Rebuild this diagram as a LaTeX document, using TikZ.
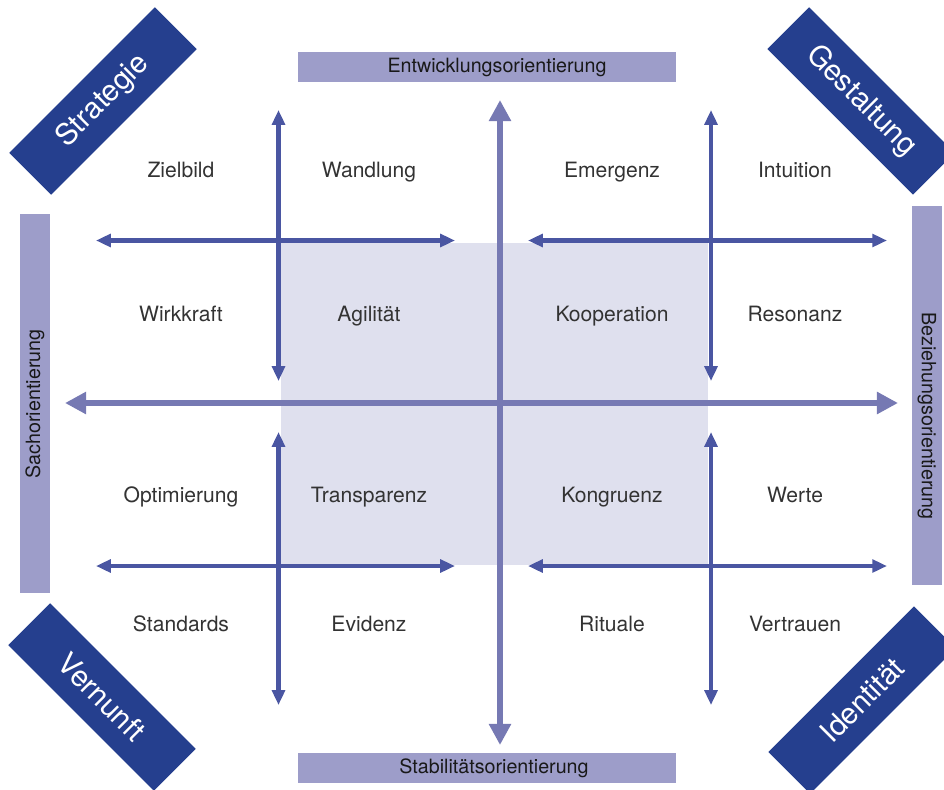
\documentclass[tikz,border=0pt]{standalone}
\usepackage{fontspec}
\setmainfont{TeX Gyre Heros}
\usetikzlibrary{arrows.meta}

\definecolor{bannerblue}{HTML}{253F8E}
\definecolor{barviolet}{HTML}{9D9DC9}
\definecolor{fieldgray}{HTML}{DFE0EE}
\definecolor{mainarrow}{HTML}{7679B3}
\definecolor{subarrow}{HTML}{4A56A2}
\definecolor{labelgray}{HTML}{333333}

\tikzset{
    banner/.style={fill=bannerblue, text=white, inner sep=0pt,
        minimum width=146.5pt, minimum height=42pt,
        font=\fontsize{21}{25}\selectfont},
    orientbar/.style={fill=barviolet, inner sep=0pt,
        minimum width=269pt, minimum height=21.5pt},
    bartext/.style={text=black!90, inner sep=0pt,
        font=\fontsize{14}{16}\selectfont},
    quality/.style={text=labelgray, inner sep=0pt, anchor=base,
        font=\fontsize{15}{18}\selectfont},
    axisarrow/.style={draw=mainarrow, line width=4.6pt,
        {Triangle[length=15pt,width=15pt]}-{Triangle[length=15pt,width=15pt]}},
    subarrowline/.style={draw=subarrow, line width=3pt,
        {Triangle[length=10.5pt,width=9pt]}-{Triangle[length=10.5pt,width=9pt]}}
}

\begin{document}
\begin{tikzpicture}[x=0.025cm, y=-0.025cm]
    \useasboundingbox (0,0) rectangle (944,789);

    % core field
    \fill[fieldgray] (281,243) rectangle (708,565);

    % orientation bars
    \node[orientbar] (entw) at (487,67) {};
    \node[orientbar] (stab) at (487,768) {};
    \node[orientbar, rotate=90] (sach) at (35,403.5) {};
    \node[orientbar, rotate=-90] (bez) at (927,395.5) {};
    \node[bartext] (entwtext) at (497,67) {Entwicklungsorientierung};
    \node[bartext] (stabtext) at (494,768) {Stabilitätsorientierung};
    \node[bartext, rotate=90] (sachtext) at (35,404) {Sachorientierung};
    \node[bartext, rotate=-90] (beztext) at (927,416) {Beziehungsorientierung};

    % corner banners
    \node[banner, rotate=45] (strat) at (103,101) {Strategie};
    \node[banner, rotate=-45] (gest) at (861,101) {Gestaltung};
    \node[banner, rotate=-45] (vern) at (102,697) {Vernunft};
    \node[banner, rotate=45] (ident) at (862,700) {Identität};

    % arrow ends
    \coordinate (vtop) at (500,100);
    \coordinate (vbot) at (500,745);
    \coordinate (hleft) at (65,403);
    \coordinate (hright) at (898,403);
    \coordinate (luA) at (278.5,110);
    \coordinate (luB) at (278.5,381);
    \coordinate (llA) at (278.5,432);
    \coordinate (llB) at (278.5,705);
    \coordinate (ruA) at (711,110);
    \coordinate (ruB) at (711,381);
    \coordinate (rlA) at (711,432);
    \coordinate (rlB) at (711,705);
    \coordinate (tlA) at (96,240.5);
    \coordinate (tlB) at (455,240.5);
    \coordinate (trA) at (528,240.5);
    \coordinate (trB) at (887,240.5);
    \coordinate (blA) at (96,566);
    \coordinate (blB) at (455,566);
    \coordinate (brA) at (528,566);
    \coordinate (brB) at (887,566);

    % small arrows
    \draw[subarrowline] (luA) -- (luB);
    \draw[subarrowline] (llA) -- (llB);
    \draw[subarrowline] (ruA) -- (ruB);
    \draw[subarrowline] (rlA) -- (rlB);
    \draw[subarrowline] (tlA) -- (tlB);
    \draw[subarrowline] (trA) -- (trB);
    \draw[subarrowline] (blA) -- (blB);
    \draw[subarrowline] (brA) -- (brB);

    % main axes
    \draw[axisarrow] (hleft) -- (hright);
    \draw[axisarrow] (vbot) -- (vtop);

    % qualities (placed at their baselines)
    \node[quality] (zielbild) at (181,177) {Zielbild};
    \node[quality] (wandlung) at (369,177) {Wandlung};
    \node[quality] (emergenz) at (612,177) {Emergenz};
    \node[quality] (intuition) at (795,177) {Intuition};
    \node[quality] (wirkkraft) at (181,321) {Wirkkraft};
    \node[quality] (agilitaet) at (369,321) {Agilität};
    \node[quality] (kooperation) at (612,321) {Kooperation};
    \node[quality] (resonanz) at (795,321) {Resonanz};
    \node[quality] (optimierung) at (181,502) {Optimierung};
    \node[quality] (transparenz) at (369,502) {Transparenz};
    \node[quality] (kongruenz) at (612,502) {Kongruenz};
    \node[quality] (werte) at (795,502) {Werte};
    \node[quality] (standards) at (181,631) {Standards};
    \node[quality] (evidenz) at (369,631) {Evidenz};
    \node[quality] (rituale) at (612,631) {Rituale};
    \node[quality] (vertrauen) at (795,631) {Vertrauen};
\end{tikzpicture}
\end{document}
